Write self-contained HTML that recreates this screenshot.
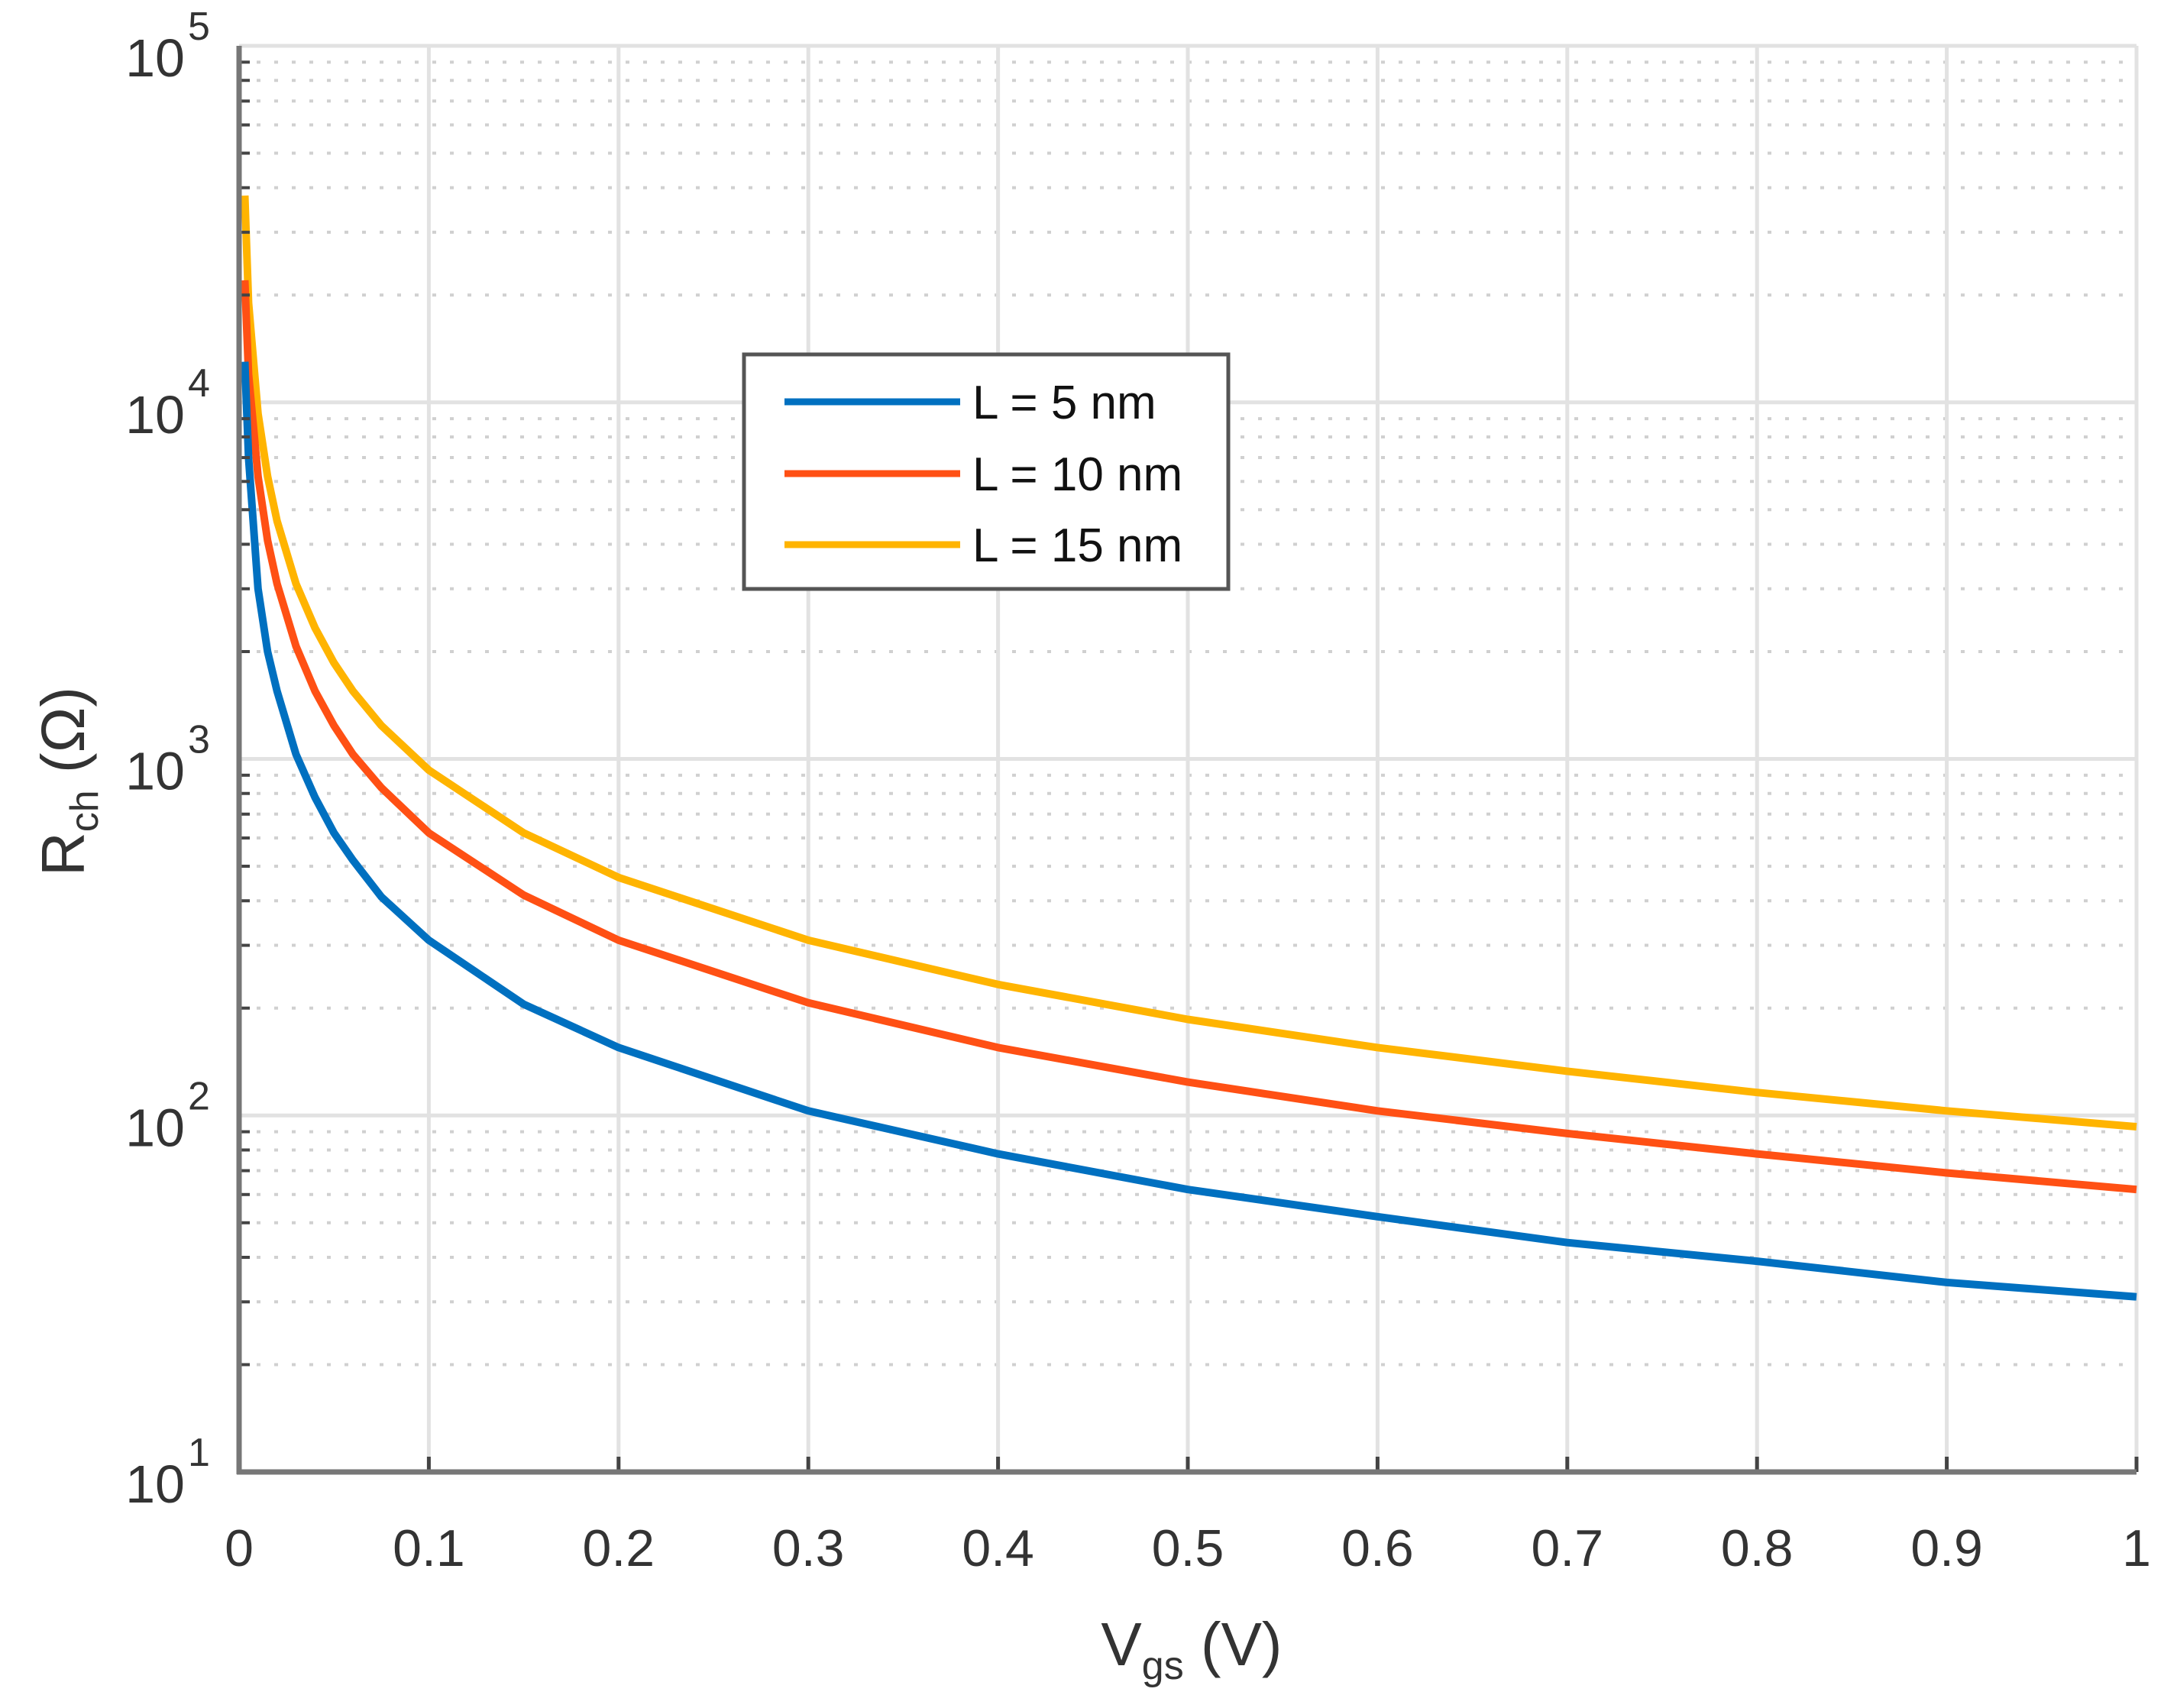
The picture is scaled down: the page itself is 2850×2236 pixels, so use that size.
<!DOCTYPE html>
<html><head><meta charset="utf-8"><style>
html,body{margin:0;padding:0;background:#fff;}
svg{display:block;font-family:"Liberation Sans",sans-serif;}
</style></head><body>
<svg id="chart" width="2850" height="2236" viewBox="0 0 2850 2236" xmlns="http://www.w3.org/2000/svg">
<rect width="2850" height="2236" fill="#fff"/>
<g id="grid"></g>
<g id="series"></g>
<g id="axes"></g>
<g>
<rect x="974" y="464" width="634" height="307" fill="#fff" stroke="#555" stroke-width="5"/>
<g><line x1="1027" y1="526" x2="1257" y2="526" stroke="#0070C0" stroke-width="9"/><text x="1273" y="548" font-size="62" fill="#111">L = 5 nm</text></g>
<g><line x1="1027" y1="620" x2="1257" y2="620" stroke="#FF5014" stroke-width="9"/><text x="1273" y="642" font-size="62" fill="#111">L = 10 nm</text></g>
<g><line x1="1027" y1="713" x2="1257" y2="713" stroke="#FFB400" stroke-width="9"/><text x="1273" y="735" font-size="62" fill="#111">L = 15 nm</text></g>
</g>
<text x="1560" y="2180" font-size="80" fill="#333" text-anchor="middle">V<tspan font-size="52" dy="18">gs</tspan><tspan dy="-18"> (V)</tspan></text>
<text transform="translate(110,1023) rotate(-90)" font-size="80" fill="#333" text-anchor="middle">R<tspan font-size="52" dy="18">ch</tspan><tspan dy="-18"> (Ω)</tspan></text>
</svg>
<script>
const vgs = [0.003,0.005,0.01,0.015,0.02,0.03,0.04,0.05,0.06,0.075,0.1,0.15,0.2,0.3,0.4,0.5,0.6,0.7,0.8,0.9,1.0];
const r5 = [13000,7000,3000,2000,1550,1030,780,620,520,410,310,205,155,103,78,62,52,44,39,34,31];
const r10 = [22000,12000,6200,4100,3100,2070,1550,1240,1030,830,620,415,310,207,155,124,103,89,78,69,62];
const r15 = [38000,19000,9300,6200,4650,3100,2330,1860,1550,1240,930,620,465,310,233,186,155,133,116,103,93];
const xTicks = [0,0.1,0.2,0.3,0.4,0.5,0.6,0.7,0.8,0.9,1];
const xTickLabels = ["0","0.1","0.2","0.3","0.4","0.5","0.6","0.7","0.8","0.9","1"];
const yDecades = [1,2,3,4,5];

const X0=313,X1=2797,Y0=1927,Y1=60;
function sx(v){return X0+(X1-X0)*v;}
function sy(r){return Y0-(Y0-Y1)*(Math.log10(r)-1)/4;}
const NS="http://www.w3.org/2000/svg";
function mk(tag,attrs,parent){const e=document.createElementNS(NS,tag);for(const k in attrs)e.setAttribute(k,attrs[k]);parent.appendChild(e);return e;}
const grid=document.getElementById('grid'),axes=document.getElementById('axes'),ser=document.getElementById('series');

for(let d=1;d<5;d++){for(let m=2;m<=9;m++){
  const y=sy(m*Math.pow(10,d));
  const l=mk('line',{x1:X0,x2:X1,y1:y,y2:y,stroke:'#d0d0d0','stroke-width':4,'stroke-dasharray':'5 18'},grid);
  
  
  const t=mk('line',{x1:X0,x2:X0+14,y1:y,y2:y,stroke:'#444','stroke-width':4},axes);
  
  
}}
yDecades.forEach(d=>{
  const y=sy(Math.pow(10,d));
  const l=mk('line',{x1:X0,x2:X1,y1:y,y2:y,stroke:'#e2e2e2','stroke-width':5},grid);
  
  
  const t=mk('text',{x:242,y:y+40,'font-size':70,fill:'#333','text-anchor':'end'},axes);
  t.textContent='10';
  
  
  const s=mk('text',{x:246,y:y-8,'font-size':52,fill:'#333'},axes);
  s.textContent=String(d);
  
  
});
xTicks.forEach((v,i)=>{
  const x=sx(v);
  const l=mk('line',{x1:x,x2:x,y1:Y1,y2:Y0,stroke:'#e2e2e2','stroke-width':5},grid);
  
  
  const t=mk('line',{x1:x,x2:x,y1:Y0,y2:Y0-20,stroke:'#444','stroke-width':5},axes);
  
  
  const tx=mk('text',{x:x,y:2050,'font-size':68,fill:'#333','text-anchor':'middle'},axes);
  tx.textContent=xTickLabels[i];
  
  
});
const ax=mk('line',{x1:X0-3,x2:X1,y1:Y0,y2:Y0,stroke:'#777','stroke-width':7},axes);


const ay=mk('line',{x1:X0,x2:X0,y1:Y1,y2:Y0+3,stroke:'#777','stroke-width':7},axes);



function drawSeries(vals,color,name){
  let d='';
  vgs.forEach((v,i)=>{d+=(i?'L':'M')+sx(v).toFixed(1)+','+sy(vals[i]).toFixed(1);});
  const p=mk('path',{d:d,fill:'none',stroke:color,'stroke-width':10,'stroke-linejoin':'round'},ser);
  
  
}
drawSeries(r15,'#FFB400','series-l-15nm');
drawSeries(r10,'#FF5014','series-l-10nm');
drawSeries(r5,'#0070C0','series-l-5nm');
</script>
</body></html>
